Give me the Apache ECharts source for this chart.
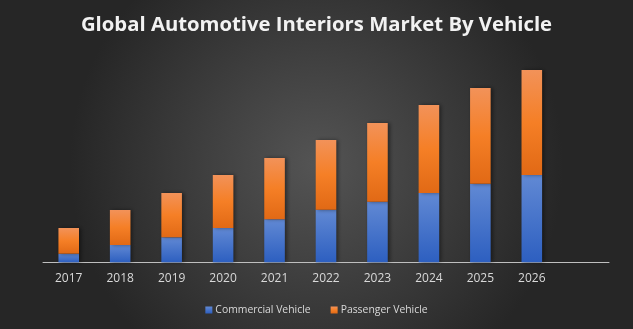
<!DOCTYPE html>
<html><head><meta charset="utf-8">
<script src="https://cdn.jsdelivr.net/npm/echarts@6/dist/echarts.min.js"></script>
<style>html,body{margin:0;padding:0;background:#333;}#c{width:633px;height:329px;}</style>
</head><body><div id="c"></div>
<script>
const title = 'Global Automotive Interiors Market By Vehicle';
const categories = ['2017','2018','2019','2020','2021','2022','2023','2024','2025','2026',''];
const commercial = [8.6,17.3,25,34.3,43,52.5,60.6,69.3,78.6,87.3];
const passenger = [25.7,35,44.3,53,61.3,69.8,78.7,88,95.7,105];
const seriesNames = ['Commercial Vehicle','Passenger Vehicle'];

const chart = echarts.init(document.getElementById('c'));
const blue = new echarts.graphic.LinearGradient(0,0,0,1,[{offset:0,color:'#6189d4'},{offset:1,color:'#2d5fc0'}]);
const orange = new echarts.graphic.LinearGradient(0,0,0,1,[{offset:0,color:'#f29259'},{offset:0.5,color:'#f57f26'},{offset:1,color:'#e16915'}]);
const shadow = {shadowColor:'rgba(0,0,0,0.45)',shadowBlur:4,shadowOffsetX:2,shadowOffsetY:0};
chart.setOption({
  backgroundColor: new echarts.graphic.RadialGradient(0.5,0.5,0.75,[{offset:0,color:'#545454'},{offset:1,color:'#262626'}]),
  animation:false,
  title:{text:title,left:'center',top:10,textStyle:{color:'#f2f2f2',fontFamily:'Open Sans',fontWeight:'bold',fontSize:20.3}},
  legend:{bottom:9,left:'center',itemWidth:7,itemHeight:7,itemGap:20,icon:'rect',
    textStyle:{color:'#d9d9d9',fontFamily:'Open Sans',fontSize:10.4,padding:[0,0,0,-2]},data:seriesNames},
  grid:{left:43,right:24,top:62.3,bottom:66.7},
  xAxis:{type:'category',data:categories,axisLine:{lineStyle:{color:'#bfbfbf',width:1}},axisTick:{show:false},
    axisLabel:{color:'#d9d9d9',fontFamily:'Open Sans',fontSize:12,margin:10}},
  yAxis:{type:'value',min:0,max:200,show:false,splitLine:{show:false}},
  series:[
    {name:seriesNames[0],type:'bar',stack:'a',barWidth:'40%',data:commercial,itemStyle:Object.assign({color:blue},shadow)},
    {name:seriesNames[1],type:'bar',stack:'a',barWidth:'40%',data:passenger,itemStyle:Object.assign({color:orange},shadow)}
  ]
});
</script></body></html>
